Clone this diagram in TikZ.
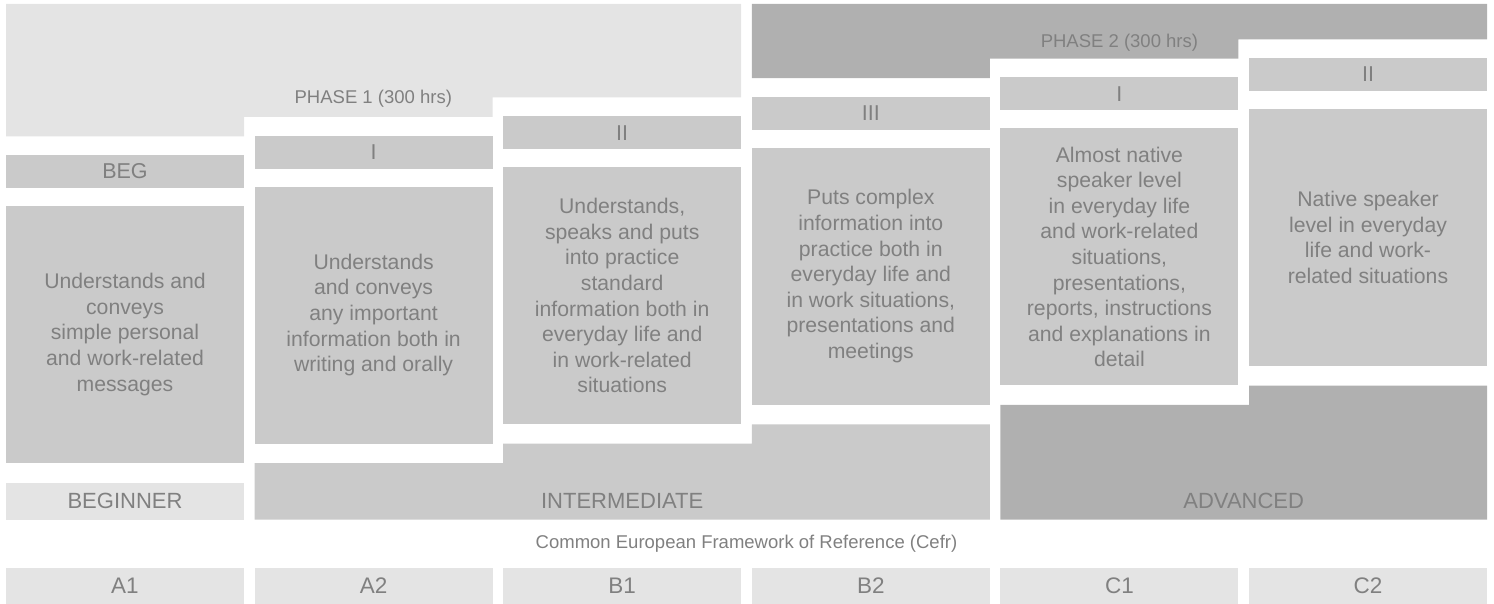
\documentclass[tikz,border=0pt]{standalone}
\usepackage{fontspec}
\setmainfont{Liberation Sans}
\definecolor{lightg}{HTML}{E4E4E4}
\definecolor{midg}{HTML}{CACACA}
\definecolor{darkg}{HTML}{B0B0B0}
\definecolor{txtg}{HTML}{808080}
\tikzset{
  cell/.style={anchor=north west, inner sep=0pt, outer sep=0pt, minimum width=238pt, text=txtg, align=center},
  labelbox/.style={cell, fill=midg, minimum height=33pt, font=\fontsize{21.5}{24}\selectfont},
  descbox/.style={cell, fill=midg, minimum height=257pt, font=\fontsize{21.2}{25.6}\selectfont},
  cefrbox/.style={cell, fill=lightg, minimum height=36pt, font=\fontsize{22.5}{25}\selectfont},
  lvltext/.style={inner sep=0pt, text=txtg, font=\fontsize{22}{24}\selectfont},
  smalltext/.style={inner sep=0pt, text=txtg, font=\fontsize{18.5}{22}\selectfont},
}
\begin{document}
\begin{tikzpicture}[x=1pt,y=-1pt]
\useasboundingbox (0,0) rectangle (1494,604);
% phases
\fill[lightg] (6,4) -- (741.2,4) -- (741.2,97.5) -- (492.6,97.5) -- (492.6,116.9) -- (244,116.9) -- (244,136.3) -- (6,136.3) -- cycle;
\fill[darkg] (751.8,4) -- (1487,4) -- (1487,39.3) -- (1238.4,39.3) -- (1238.4,58.7) -- (989.8,58.7) -- (989.8,78.1) -- (751.8,78.1) -- cycle;
\node[smalltext] (ph1) at (373.3,99) {PHASE 1 (300 hrs)};
\node[smalltext] (ph2) at (1119.4,42.5) {PHASE 2 (300 hrs)};
% level labels
\node[labelbox] (l1) at (6,155) {BEG};
\node[labelbox] (l2) at (254.6,135.6) {I};
\node[labelbox] (l3) at (503.2,116.2) {II};
\node[labelbox] (l4) at (751.8,96.8) {III};
\node[labelbox] (l5) at (1000.4,77.4) {I};
\node[labelbox] (l6) at (1249,58) {II};
% descriptions
\node[descbox] (d1) at (6,206) {Understands and\\conveys\\simple personal\\and work-related\\messages};
\node[descbox] (d2) at (254.6,186.6) {Understands\\and conveys\\any important\\information both in\\writing and orally};
\node[descbox] (d3) at (503.2,167.2) {Understands,\\speaks and puts\\into practice\\standard\\information both in\\everyday life and\\in work-related\\situations};
\node[descbox] (d4) at (751.8,147.8) {Puts complex\\information into\\practice both in\\everyday life and\\in work situations,\\presentations and\\meetings};
\node[descbox] (d5) at (1000.4,128.4) {Almost native\\speaker level\\in everyday life\\and work-related\\situations,\\presentations,\\reports, instructions\\and explanations in\\detail};
\node[descbox] (d6) at (1249,109) {Native speaker\\level in everyday\\life and work-\\related situations};
% levels
\node[cell, fill=lightg, minimum height=37pt, font=\fontsize{22}{24}\selectfont] (beg) at (6,482.5) {BEGINNER};
\fill[midg] (254.6,463.1) -- (503.2,463.1) -- (503.2,443.7) -- (751.8,443.7) -- (751.8,424.3) -- (989.8,424.3) -- (989.8,519.5) -- (254.6,519.5) -- cycle;
\fill[darkg] (1000.4,404.9) -- (1249,404.9) -- (1249,385.5) -- (1487,385.5) -- (1487,519.5) -- (1000.4,519.5) -- cycle;
\node[lvltext] (inter) at (622.2,500.5) {INTERMEDIATE};
\node[lvltext] (adv) at (1243.7,500.5) {ADVANCED};
% CEFR
\node[smalltext] (cefr) at (746.5,544) {Common European Framework of Reference (Cefr)};
\node[cefrbox] (a1) at (6,568) {A1};
\node[cefrbox] (a2) at (254.6,568) {A2};
\node[cefrbox] (b1) at (503.2,568) {B1};
\node[cefrbox] (b2) at (751.8,568) {B2};
\node[cefrbox] (c1) at (1000.4,568) {C1};
\node[cefrbox] (c2) at (1249,568) {C2};
\end{tikzpicture}
\end{document}
